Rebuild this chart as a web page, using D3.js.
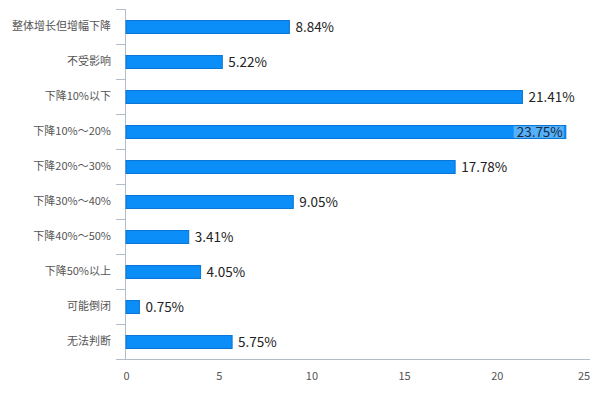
<!DOCTYPE html>
<html><head><meta charset="utf-8">
<script src="https://cdn.jsdelivr.net/npm/d3@7"></script>
<style>body{margin:0;background:#fff;}svg{display:block;}</style>
</head><body>
<svg id="c" width="600" height="399"></svg>
<script>
const categories = ["整体增长但增幅下降","不受影响","下降10%以下","下降10%～20%","下降20%～30%","下降30%～40%","下降40%～50%","下降50%以上","可能倒闭","无法判断"];
const values = [8.84,5.22,21.41,23.75,17.78,9.05,3.41,4.05,0.75,5.75];
const xTicks = [0,5,10,15,20,25];

const svg = d3.select("#c");
const x = d3.scaleLinear().domain([0,25]).range([125.5,589]);
const y = d3.scaleBand().domain(categories).range([9,359]).paddingInner(0.63).paddingOuter(0.315);
const axisColor = "#b3bdca";
const font = "'Microsoft YaHei','Noto Sans CJK SC',sans-serif";

// y axis line and ticks at band boundaries
svg.append("line").attr("x1",125.5).attr("x2",125.5).attr("y1",9).attr("y2",359).attr("stroke",axisColor);
categories.forEach((c,i)=>{
  const yy = y(c) - y.step()*y.paddingOuter() + 0.5;
  svg.append("line").attr("x1",116).attr("x2",125.5).attr("y1",yy).attr("y2",yy).attr("stroke",axisColor);
});
// x axis line
svg.append("line").attr("x1",116).attr("x2",590).attr("y1",359.5).attr("y2",359.5).attr("stroke",axisColor);

// x tick labels
svg.selectAll(".xt").data(xTicks).enter().append("text")
  .attr("x",d=> d===25 ? x(d)-5 : x(d)+1).attr("y",380)
  .attr("text-anchor","middle").attr("font-family",font).attr("font-size",11).attr("fill","#555")
  .text(d=>d);

// category labels
svg.selectAll(".cl").data(categories).enter().append("text")
  .attr("x",111).attr("y",d=>y(d)+y.bandwidth()/2).attr("dy","0.35em")
  .attr("text-anchor","end").attr("font-family",font).attr("font-size",11).attr("fill","#555")
  .text(d=>d);

// bars
svg.selectAll(".bar").data(values).enter().append("rect")
  .attr("x",x(0)+0.5).attr("y",(d,i)=>y(categories[i])+0.5)
  .attr("width",d=>x(d)-x(0)-0.5).attr("height",y.bandwidth())
  .attr("fill","#0b8ef8").attr("stroke","#0a74d6").attr("stroke-width",1);

// value labels
const maxV = d3.max(values);
values.forEach((v,i)=>{
  const cy = y(categories[i])+y.bandwidth()/2+0.5;
  if (v===maxV) {
    const t = svg.append("text").attr("x",x(v)-3).attr("y",cy).attr("dy","0.35em")
      .attr("text-anchor","end").attr("font-family",font).attr("font-size",13.5).attr("fill","#1a2a3a")
      .text(v.toFixed(2)+"%");
    const bb = t.node().getBBox();
    svg.insert("rect", function(){return t.node();})
      .attr("x",bb.x-3).attr("y",y(categories[i])+1).attr("width",bb.width+4).attr("height",y.bandwidth()-1)
      .attr("fill","#ffffff").attr("opacity",0.3);
  } else {
    svg.append("text").attr("x",x(v)+6).attr("y",cy).attr("dy","0.35em")
      .attr("font-family",font).attr("font-size",13.5).attr("fill","#222")
      .text(v.toFixed(2)+"%");
  }
});
</script>
</body></html>
